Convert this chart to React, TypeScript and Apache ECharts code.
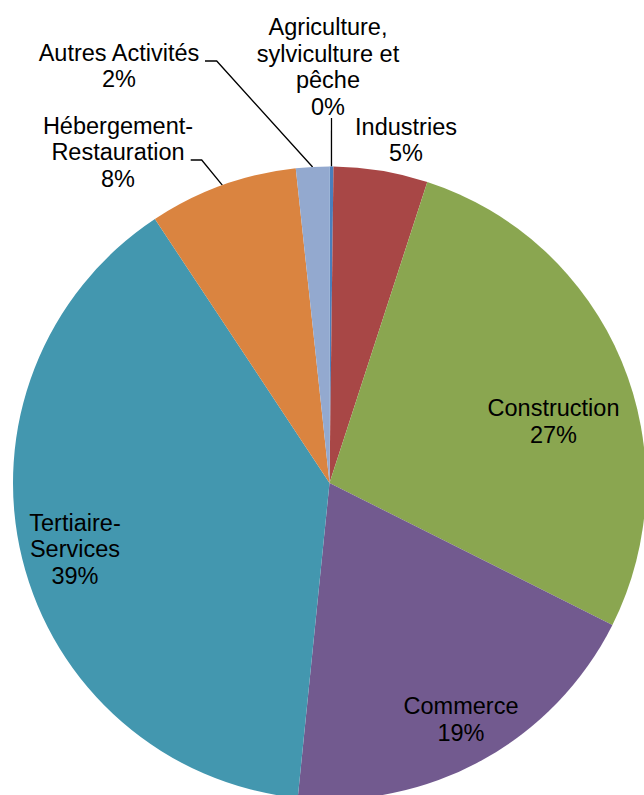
import React, { useEffect, useRef } from "react";
import * as echarts from "echarts";

// ---- data ----
const categories = [
  "Agriculture,\nsylviculture et\npêche",
  "Industries",
  "Construction",
  "Commerce",
  "Tertiaire-\nServices",
  "Hébergement-\nRestauration",
  "Autres Activités",
];
const shares = [0.2, 4.8, 27.4, 19.2, 39.1, 7.6, 1.7];
const sliceColors = ["#4A7EBB", "#A84746", "#8AA650", "#725A8F", "#4397AF", "#DA8440", "#93A9CF"];

// ---- layout (positions, not data) ----
const CENTER: [number, number] = [329.5, 483];
const RADIUS = 316.5;
const labelAnchors: [number, number][] = [
  [328, 67],
  [406, 140],
  [553.5, 421.5],
  [461, 719.5],
  [75, 549],
  [118, 152],
  [119, 66],
];
const leaderBends: ([number, number][] | null)[] = [
  [[331.5, 118]],
  null,
  null,
  null,
  null,
  [[201.7, 160], [190.7, 160]],
  [[216.7, 61], [205, 61]],
];

function rimPoint(i: number): [number, number] {
  const total = shares.reduce((a, b) => a + b, 0);
  let cum = 0;
  for (let k = 0; k < i; k++) cum += shares[k];
  const mid = (cum + shares[i] / 2) / total;
  const ang = mid * Math.PI * 2;
  return [CENTER[0] + RADIUS * Math.sin(ang), CENTER[1] - RADIUS * Math.cos(ang)];
}

export default function App() {
  const ref = useRef<HTMLDivElement>(null);
  useEffect(() => {
    document.body.style.margin = "0";
    if (!ref.current) return;
    const chart = echarts.init(ref.current, null, { renderer: "svg" });
    chart.setOption({
      animation: false,
      backgroundColor: "#ffffff",
      series: [
        {
          type: "pie",
          center: CENTER,
          radius: RADIUS,
          startAngle: 90,
          clockwise: true,
          avoidLabelOverlap: false,
          itemStyle: { borderWidth: 0 },
          emphasis: { disabled: true },
          label: {
            show: true,
            position: "outside",
            color: "#000000",
            fontFamily: "'Liberation Sans', Arial, sans-serif",
            fontSize: 23.5,
            lineHeight: 26.5,
            align: "center",
            width: 300,
            overflow: "none",
            formatter: (p: any) => `${p.name}\n${Math.round(p.percent)}%`,
          },
          labelLine: {
            show: true,
            lineStyle: { color: "#000000", width: 1.3 },
          },
          labelLayout: (p: any) => {
            const i = p.dataIndex;
            const [x, y] = labelAnchors[i];
            const bends = leaderBends[i];
            const res: any = { x, y, align: "center", verticalAlign: "middle" };
            if (bends) res.labelLinePoints = [rimPoint(i), ...bends];
            return res;
          },
          data: categories.map((name, i) => ({
            name,
            value: shares[i],
            itemStyle: { color: sliceColors[i] },
            labelLine: { show: leaderBends[i] != null },
          })),
        },
      ],
    });
    return () => chart.dispose();
  }, []);
  return <div ref={ref} style={{ width: 644, height: 795 }} />;
}
